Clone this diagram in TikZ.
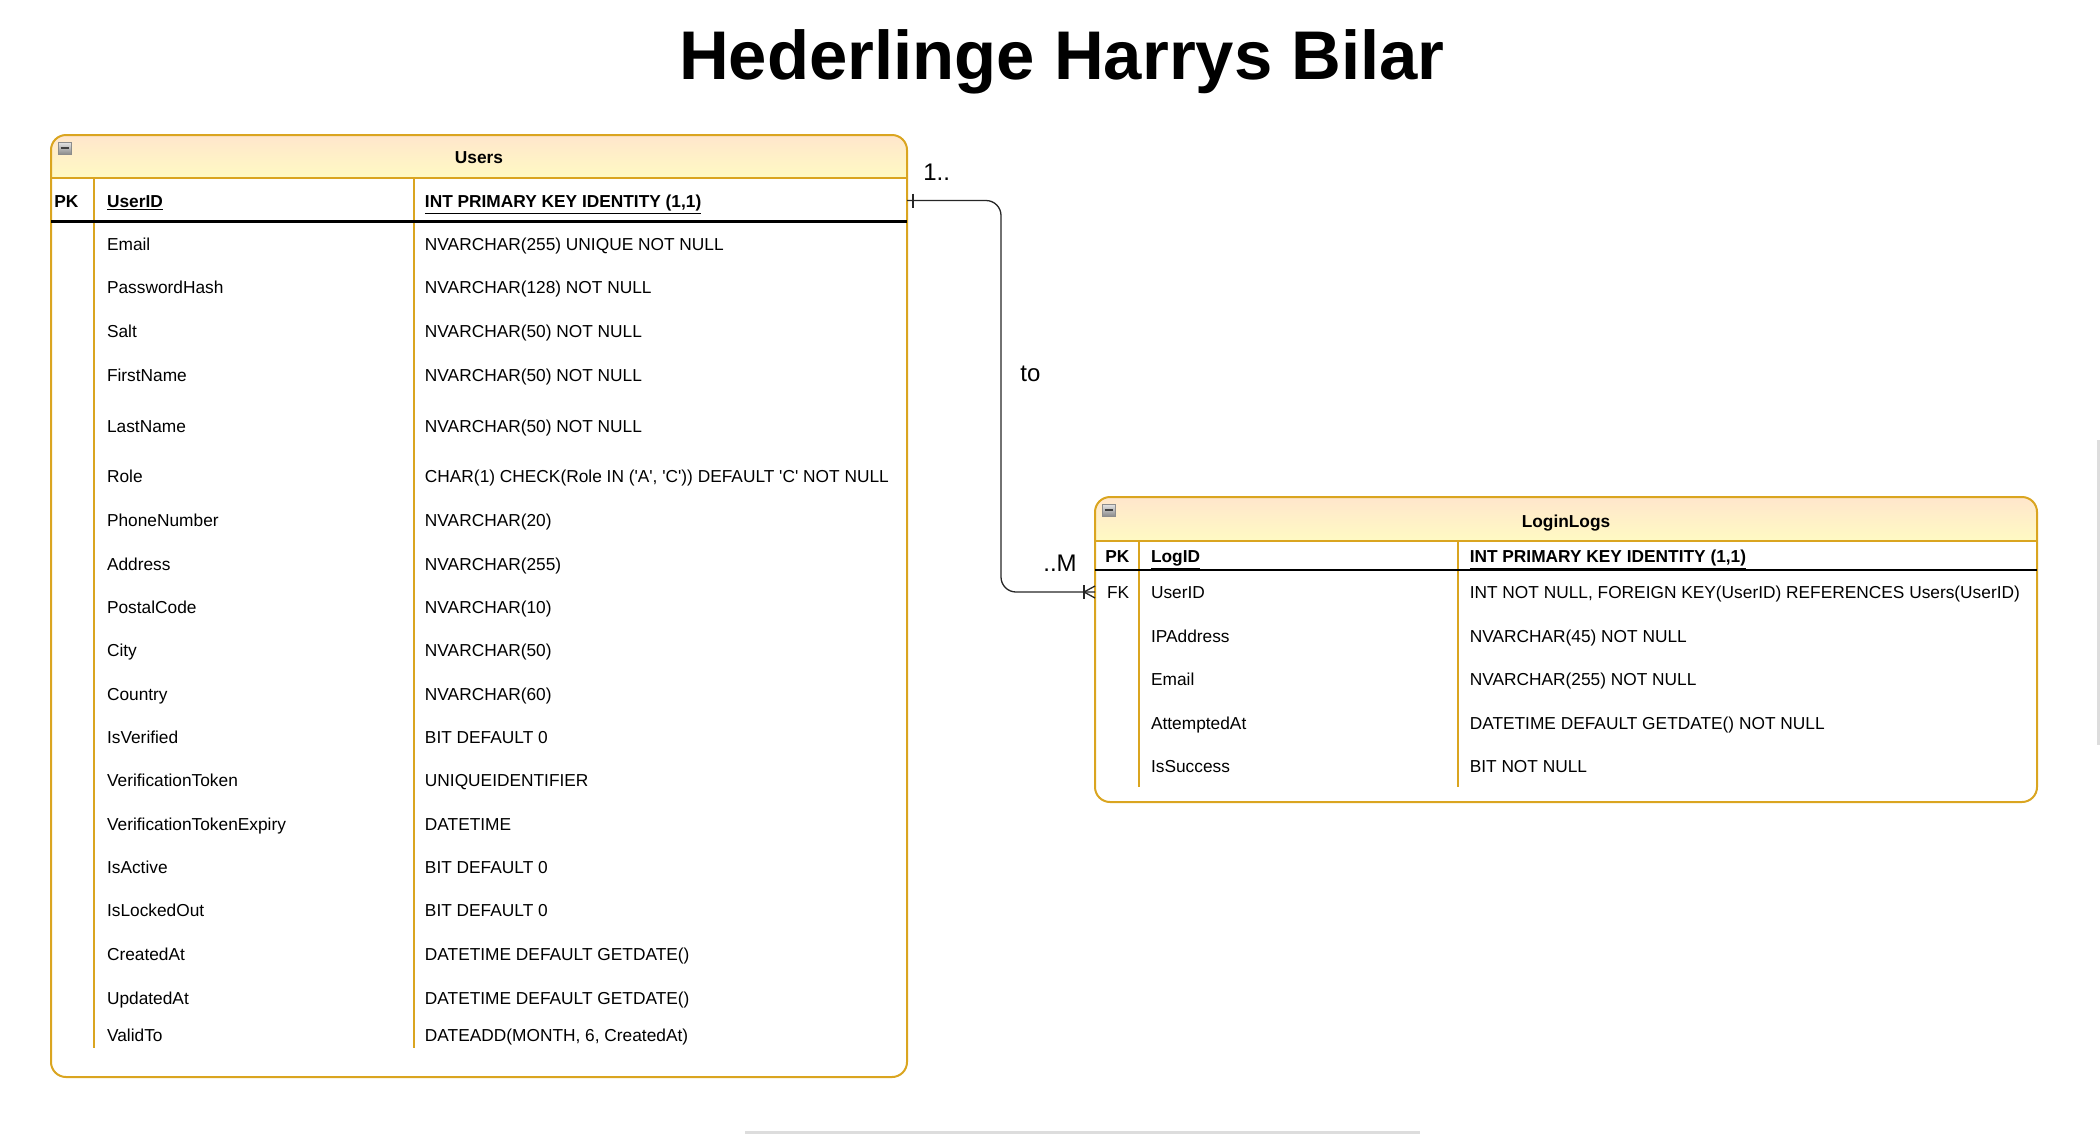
\documentclass[tikz,border=0pt]{standalone}
\usepackage{fontspec}
\setmainfont{Liberation Sans}[Ligatures=TeXOff]

\definecolor{tblborder}{HTML}{DAA520}
\definecolor{hdrtop}{RGB}{255,230,204}
\definecolor{hdrbot}{RGB}{255,250,195}
\definecolor{scrollgray}{HTML}{DDDDDD}

\tikzset{
    tblframe/.style={draw=tblborder, line width=0.4mm, rounded corners=3mm},
    colsep/.style={draw=tblborder, line width=0.4mm},
    pkline/.style={draw=black, line width=0.5mm},
    field/.style={anchor=base west, inner sep=0pt, font=\fontsize{9.85}{12}\selectfont},
    keyfield/.style={field, font=\fontsize{9.85}{12}\selectfont\bfseries},
    tbltitle/.style={anchor=base, inner sep=0pt, font=\fontsize{9.85}{12}\selectfont\bfseries},
    card/.style={anchor=base west, inner sep=0pt, font=\fontsize{13.66}{16}\selectfont},
    foldicon/.style={draw=black!45, line width=0.15mm, top color=black!10, bottom color=black!45},
    relline/.style={draw=black!85, line width=0.26mm},
}

\begin{document}
\begin{tikzpicture}[x=0.2mm, y=-0.2mm]

    \useasboundingbox (0,0) rectangle (2100,1134);

    % Title
    \node[anchor=base, inner sep=0pt, font=\fontsize{39.2}{44}\selectfont\bfseries] at (1062, 79.3) (title) {Hederlinge Harrys Bilar};

    % Users table
    \begin{scope}
        \clip[rounded corners=3mm] (51,135) rectangle (907,1077);
        \shade[top color=hdrtop, bottom color=hdrbot] (51,135) rectangle (907,178);
    \end{scope}
    \draw[tblframe] (51,135) rectangle (907,1077);
    \draw[colsep] (51,178) -- (907,178);
    \draw[colsep] (94,178) -- (94,1048);
    \draw[colsep] (414,178) -- (414,1048);
    \draw[pkline] (51,221.7) -- (907,221.7);
    \draw[foldicon] (58,142) rectangle (71,154);
    \draw[line width=0.3mm, black!75] (60.5,148) -- (68.5,148);
    \node[tbltitle] at (479, 163.3) (users) {Users};

    \node[keyfield] at (54, 207) (uPK) {PK};
    \node[keyfield] at (106.7, 207) (uUserID) {\underline{UserID}};
    \node[keyfield] at (424.6, 207) (uUserIDt) {\underline{INT PRIMARY KEY IDENTITY (1,1)}};
    \node[field] at (106.7, 250) (uEmail) {Email};
    \node[field] at (424.6, 250) (uEmailt) {NVARCHAR(255) UNIQUE NOT NULL};
    \node[field] at (106.7, 293.5) (uHash) {PasswordHash};
    \node[field] at (424.6, 293.5) (uHasht) {NVARCHAR(128) NOT NULL};
    \node[field] at (106.7, 337) (uSalt) {Salt};
    \node[field] at (424.6, 337) (uSaltt) {NVARCHAR(50) NOT NULL};
    \node[field] at (106.7, 381) (uFirst) {FirstName};
    \node[field] at (424.6, 381) (uFirstt) {NVARCHAR(50) NOT NULL};
    \node[field] at (106.7, 432) (uLast) {LastName};
    \node[field] at (424.6, 432) (uLastt) {NVARCHAR(50) NOT NULL};
    \node[field] at (106.7, 482.3) (uRole) {Role};
    \node[field] at (424.6, 482.3) (uRolet) {CHAR(1) CHECK(Role IN ('A', 'C')) DEFAULT 'C' NOT NULL};
    \node[field] at (106.7, 526.7) (uPhone) {PhoneNumber};
    \node[field] at (424.6, 526.7) (uPhonet) {NVARCHAR(20)};
    \node[field] at (106.7, 570) (uAddr) {Address};
    \node[field] at (424.6, 570) (uAddrt) {NVARCHAR(255)};
    \node[field] at (106.7, 613.3) (uPostal) {PostalCode};
    \node[field] at (424.6, 613.3) (uPostalt) {NVARCHAR(10)};
    \node[field] at (106.7, 656.6) (uCity) {City};
    \node[field] at (424.6, 656.6) (uCityt) {NVARCHAR(50)};
    \node[field] at (106.7, 700) (uCountry) {Country};
    \node[field] at (424.6, 700) (uCountryt) {NVARCHAR(60)};
    \node[field] at (106.7, 743.3) (uVerified) {IsVerified};
    \node[field] at (424.6, 743.3) (uVerifiedt) {BIT DEFAULT 0};
    \node[field] at (106.7, 786.6) (uToken) {VerificationToken};
    \node[field] at (424.6, 786.6) (uTokent) {UNIQUEIDENTIFIER};
    \node[field] at (106.7, 830) (uExpiry) {VerificationTokenExpiry};
    \node[field] at (424.6, 830) (uExpiryt) {DATETIME};
    \node[field] at (106.7, 873.3) (uActive) {IsActive};
    \node[field] at (424.6, 873.3) (uActivet) {BIT DEFAULT 0};
    \node[field] at (106.7, 916.6) (uLocked) {IsLockedOut};
    \node[field] at (424.6, 916.6) (uLockedt) {BIT DEFAULT 0};
    \node[field] at (106.7, 960) (uCreated) {CreatedAt};
    \node[field] at (424.6, 960) (uCreatedt) {DATETIME DEFAULT GETDATE()};
    \node[field] at (106.7, 1004) (uUpdated) {UpdatedAt};
    \node[field] at (424.6, 1004) (uUpdatedt) {DATETIME DEFAULT GETDATE()};
    \node[field] at (106.7, 1041.5) (uValid) {ValidTo};
    \node[field] at (424.6, 1041.5) (uValidt) {DATEADD(MONTH, 6, CreatedAt)};

    % LoginLogs table
    \begin{scope}
        \clip[rounded corners=3mm] (1095,497) rectangle (2037,802);
        \shade[top color=hdrtop, bottom color=hdrbot] (1095,497) rectangle (2037,541);
    \end{scope}
    \draw[tblframe] (1095,497) rectangle (2037,802);
    \draw[colsep] (1095,541) -- (2037,541);
    \draw[colsep] (1139,541) -- (1139,787);
    \draw[colsep] (1458,541) -- (1458,787);
    \draw[pkline] (1095,570) -- (2037,570);
    \draw[foldicon] (1102,504) rectangle (1115,516);
    \draw[line width=0.3mm, black!75] (1104.5,510) -- (1112.5,510);
    \node[tbltitle] at (1566, 527) (logs) {LoginLogs};

    \node[keyfield] at (1105, 562.7) (lPK) {PK};
    \node[keyfield] at (1150.7, 562.7) (lLogID) {\underline{LogID}};
    \node[keyfield] at (1469.4, 562.7) (lLogIDt) {\underline{INT PRIMARY KEY IDENTITY (1,1)}};
    \node[field] at (1106.7, 598.3) (lFK) {FK};
    \node[field] at (1150.7, 598.3) (lUserID) {UserID};
    \node[field] at (1469.4, 598.3) (lUserIDt) {INT NOT NULL, FOREIGN KEY(UserID) REFERENCES Users(UserID)};
    \node[field] at (1150.7, 642.3) (lIP) {IPAddress};
    \node[field] at (1469.4, 642.3) (lIPt) {NVARCHAR(45) NOT NULL};
    \node[field] at (1150.7, 685.5) (lEmail) {Email};
    \node[field] at (1469.4, 685.5) (lEmailt) {NVARCHAR(255) NOT NULL};
    \node[field] at (1150.7, 729.3) (lAttempt) {AttemptedAt};
    \node[field] at (1469.4, 729.3) (lAttemptt) {DATETIME DEFAULT GETDATE() NOT NULL};
    \node[field] at (1150.7, 772.7) (lSuccess) {IsSuccess};
    \node[field] at (1469.4, 772.7) (lSuccesst) {BIT NOT NULL};

    % Relation Users 1..M LoginLogs
    \coordinate (UsersPK) at (907, 200.5);
    \coordinate (LogsFK) at (1095, 592);
    \draw[relline, rounded corners=3mm] (UsersPK) -- ++(94,0) |- (LogsFK);
    \draw[relline] ([shift={(6,-7)}]UsersPK) -- ([shift={(6,7)}]UsersPK);
    \draw[relline] ([shift={(-11,-7)}]LogsFK) -- ([shift={(-11,7)}]LogsFK);
    \draw[relline] ([shift={(0,-6)}]LogsFK) -- ([shift={(-11,0)}]LogsFK) -- ([shift={(0,6)}]LogsFK);
    \node[card] at (923, 180) (one) {1..};
    \node[card] at (1020, 381.7) (to) {to};
    \node[card] at (1043, 571.7) (many) {..M};

    % window edges
    \fill[scrollgray] (2097,440) rectangle (2100,745);
    \fill[scrollgray] (745,1131) rectangle (1420,1134);

\end{tikzpicture}
\end{document}
